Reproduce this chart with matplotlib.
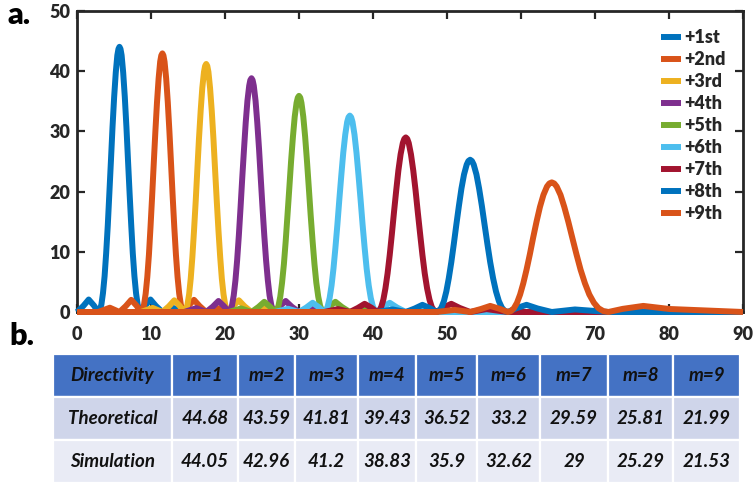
import matplotlib
matplotlib.use("Agg")
import matplotlib.pyplot as plt
from matplotlib.patches import Rectangle

# ---------------- data ----------------
series_labels = ["+1st", "+2nd", "+3rd", "+4th", "+5th", "+6th", "+7th", "+8th", "+9th"]

ang1 = [0.00, 0.86, 1.58, 2.29,
        2.87, 3.08, 3.30, 3.51, 3.73, 3.94, 4.16, 4.37, 4.59, 4.80, 5.02, 5.24, 5.45, 5.60, 5.74,
        5.88, 6.03, 6.24, 6.46, 6.68, 6.89, 7.11, 7.33, 7.54, 7.76, 7.98, 8.19, 8.41, 8.63,
        9.21, 9.93, 10.66, 11.54, 12.86, 14.48, 90.0]
dir1 = [0, 1.01, 2.07, 1.07,
        0, 0.28, 1.27, 3.13, 5.96, 9.75, 14.39, 19.66, 25.24, 30.72, 35.71, 39.79, 42.64, 43.69, 44.05,
        43.69, 42.64, 39.79, 35.71, 30.72, 25.24, 19.66, 14.39, 9.75, 5.96, 3.13, 1.27, 0.28, 0,
        1.07, 2.07, 1.01, 0, 0.73, 0, 0]

ang2 = [0.00, 2.87, 4.44, 5.74, 6.60, 7.33, 8.05,
        8.63, 8.84, 9.06, 9.28, 9.50, 9.72, 9.93, 10.15, 10.37, 10.59, 10.81, 11.03, 11.24, 11.39, 11.54,
        11.68, 11.83, 12.05, 12.27, 12.49, 12.71, 12.93, 13.15, 13.37, 13.59, 13.81, 14.03, 14.26, 14.48,
        15.07, 15.81, 16.56, 17.46, 18.81, 20.49, 90.0]
dir2 = [0, 0, 0.71, 0, 0.99, 2.02, 1.04,
        0, 0.28, 1.24, 3.06, 5.81, 9.51, 14.03, 19.17, 24.62, 29.96, 34.82, 38.80, 41.59, 42.61, 42.96,
        42.61, 41.59, 38.80, 34.82, 29.96, 24.62, 19.17, 14.03, 9.51, 5.81, 3.06, 1.24, 0.28, 0,
        1.04, 2.02, 0.99, 0, 0.71, 0, 0]

ang3 = [0.00, 8.63, 10.22, 11.54, 12.42, 13.15, 13.89,
        14.48, 14.70, 14.92, 15.15, 15.37, 15.59, 15.81, 16.04, 16.26, 16.48, 16.71, 16.93, 17.16, 17.31, 17.46,
        17.61, 17.76, 17.98, 18.21, 18.44, 18.66, 18.89, 19.12, 19.35, 19.57, 19.80, 20.03, 20.26, 20.49,
        21.10, 21.87, 22.64, 23.58, 24.99, 26.74, 90.0]
dir3 = [0, 0, 0.68, 0, 0.95, 1.94, 1.00,
        0, 0.27, 1.19, 2.93, 5.57, 9.12, 13.46, 18.39, 23.61, 28.73, 33.40, 37.21, 39.88, 40.86, 41.20,
        40.86, 39.88, 37.21, 33.40, 28.73, 23.61, 18.39, 13.46, 9.12, 5.57, 2.93, 1.19, 0.27, 0,
        1.00, 1.94, 0.95, 0, 0.68, 0, 0]

ang4 = [0.00, 14.48, 16.11, 17.46, 18.36, 19.12, 19.88,
        20.49, 20.72, 20.95, 21.18, 21.41, 21.64, 21.87, 22.10, 22.33, 22.57, 22.80, 23.03, 23.27, 23.42, 23.58,
        23.73, 23.89, 24.13, 24.36, 24.60, 24.83, 25.07, 25.31, 25.55, 25.79, 26.02, 26.26, 26.50, 26.74,
        27.39, 28.20, 29.01, 30.00, 31.50, 33.37, 90.0]
dir4 = [0, 0, 0.64, 0, 0.89, 1.83, 0.94,
        0, 0.25, 1.12, 2.76, 5.25, 8.60, 12.69, 17.33, 22.25, 27.08, 31.48, 35.07, 37.59, 38.51, 38.83,
        38.51, 37.59, 35.07, 31.48, 27.08, 22.25, 17.33, 12.69, 8.60, 5.25, 2.76, 1.12, 0.25, 0,
        0.94, 1.83, 0.89, 0, 0.64, 0, 0]

ang5 = [0.00, 20.49, 22.18, 23.58, 24.52, 25.31, 26.10,
        26.74, 26.99, 27.23, 27.47, 27.71, 27.96, 28.20, 28.44, 28.69, 28.93, 29.18, 29.42, 29.67, 29.84, 30.00,
        30.17, 30.33, 30.58, 30.83, 31.08, 31.33, 31.58, 31.84, 32.09, 32.34, 32.60, 32.85, 33.11, 33.37,
        34.06, 34.92, 35.80, 36.87, 38.50, 40.54, 90.0]
dir5 = [0, 0, 0.59, 0, 0.83, 1.69, 0.87,
        0, 0.23, 1.04, 2.55, 4.86, 7.95, 11.73, 16.02, 20.57, 25.04, 29.10, 32.43, 34.75, 35.61, 35.90,
        35.61, 34.75, 32.43, 29.10, 25.04, 20.57, 16.02, 11.73, 7.95, 4.86, 2.55, 1.04, 0.23, 0,
        0.87, 1.69, 0.83, 0, 0.59, 0, 0]

ang6 = [0.00, 26.74, 28.52, 30.00, 31.00, 31.84, 32.68,
        33.37, 33.63, 33.88, 34.14, 34.40, 34.66, 34.92, 35.19, 35.45, 35.72, 35.98, 36.25, 36.51, 36.69, 36.87,
        37.05, 37.23, 37.50, 37.77, 38.04, 38.32, 38.59, 38.87, 39.14, 39.42, 39.70, 39.98, 40.26, 40.54,
        41.30, 42.26, 43.24, 44.43, 46.26, 48.59, 90.0]
dir6 = [0, 0, 0.54, 0, 0.75, 1.53, 0.79,
        0, 0.21, 0.94, 2.32, 4.41, 7.22, 10.66, 14.56, 18.69, 22.75, 26.44, 29.46, 31.58, 32.35, 32.62,
        32.35, 31.58, 29.46, 26.44, 22.75, 18.69, 14.56, 10.66, 7.22, 4.41, 2.32, 0.94, 0.21, 0,
        0.79, 1.53, 0.75, 0, 0.54, 0, 0]

ang7 = [0.00, 33.37, 35.27, 36.87, 37.95, 38.87, 39.79,
        40.54, 40.83, 41.11, 41.40, 41.68, 41.97, 42.26, 42.55, 42.84, 43.14, 43.43, 43.73, 44.03, 44.23, 44.43,
        44.63, 44.83, 45.13, 45.44, 45.75, 46.05, 46.37, 46.68, 46.99, 47.31, 47.63, 47.94, 48.27, 48.59,
        49.46, 50.58, 51.72, 53.13, 55.34, 58.21, 90.0]
dir7 = [0, 0, 0.48, 0, 0.67, 1.36, 0.71,
        0, 0.19, 0.84, 2.06, 3.92, 6.42, 9.47, 12.94, 16.62, 20.22, 23.51, 26.19, 28.07, 28.76, 29.00,
        28.76, 28.07, 26.19, 23.51, 20.22, 16.62, 12.94, 9.47, 6.42, 3.92, 2.06, 0.84, 0.19, 0,
        0.71, 1.36, 0.67, 0, 0.48, 0, 0]

ang8 = [0.00, 40.54, 42.65, 44.43, 45.64, 46.68, 47.73,
        48.59, 48.92, 49.24, 49.58, 49.91, 50.24, 50.58, 50.92, 51.26, 51.61, 51.95, 52.30, 52.66, 52.89, 53.13,
        53.37, 53.61, 53.98, 54.34, 54.71, 55.08, 55.46, 55.84, 56.23, 56.62, 57.01, 57.41, 57.81, 58.21,
        59.32, 60.75, 62.25, 64.16, 67.29, 71.81, 90.0]
dir8 = [0, 0, 0.42, 0, 0.58, 1.19, 0.61,
        0, 0.16, 0.73, 1.80, 3.42, 5.60, 8.26, 11.29, 14.49, 17.64, 20.50, 22.84, 24.48, 25.08, 25.29,
        25.08, 24.48, 22.84, 20.50, 17.64, 14.49, 11.29, 8.26, 5.60, 3.42, 1.80, 0.73, 0.16, 0,
        0.61, 1.19, 0.58, 0, 0.42, 0, 0]

ang9 = [0.00, 48.59, 51.03, 53.13, 54.59, 55.84, 57.14,
        58.21, 58.62, 59.04, 59.46, 59.88, 60.31, 60.75, 61.20, 61.64, 62.10, 62.56, 63.03, 63.51, 63.83, 64.16,
        64.49, 64.82, 65.34, 65.85, 66.39, 66.93, 67.49, 68.05, 68.64, 69.23, 69.85, 70.48, 71.14, 71.81,
        73.74, 76.53, 80.06, 90.0]
dir9 = [0, 0, 0.35, 0, 0.50, 1.01, 0.52,
        0, 0.14, 0.62, 1.53, 2.91, 4.77, 7.03, 9.61, 12.34, 15.01, 17.45, 19.45, 20.84, 21.35, 21.53,
        21.35, 20.84, 19.45, 17.45, 15.01, 12.34, 9.61, 7.03, 4.77, 2.91, 1.53, 0.62, 0.14, 0,
        0.52, 1.01, 0.50, 0]

x_ticks = [0, 10, 20, 30, 40, 50, 60, 70, 80, 90]
y_ticks = [0, 10, 20, 30, 40, 50]

table_header = ["Directivity", "m=1", "m=2", "m=3", "m=4", "m=5", "m=6", "m=7", "m=8", "m=9"]
row_names = ["Theoretical", "Simulation"]
theoretical = [44.68, 43.59, 41.81, 39.43, 36.52, 33.2, 29.59, 25.81, 21.99]
simulation = [44.05, 42.96, 41.2, 38.83, 35.9, 32.62, 29, 25.29, 21.53]

# ---------------- styling ----------------
line_colors = ["#0072BD", "#D95319", "#EDB120", "#7E2F8E", "#77AC30",
               "#4DBEEE", "#A2142F", "#0072BD", "#D95319"]
plt.rcParams['font.family'] = ['Lato', 'DejaVu Sans']
plt.rcParams['font.weight'] = 'heavy'
ink = '#262626'

W, H = 753, 491
fig = plt.figure(figsize=(W / 100, H / 100), dpi=100)

ax = fig.add_axes([77 / W, 1 - 312 / H, (743 - 77) / W, (312 - 11) / H])
angles = [ang1, ang2, ang3, ang4, ang5, ang6, ang7, ang8, ang9]
values = [dir1, dir2, dir3, dir4, dir5, dir6, dir7, dir8, dir9]
for a, d, c, lab in zip(angles, values, line_colors, series_labels):
    ax.plot(a, d, color=c, lw=4.3, label=lab, solid_joinstyle='round',
            solid_capstyle='butt', clip_on=False, zorder=3)

ax.set_xlim(0, 90)
ax.set_ylim(0, 50)
ax.set_xticks(x_ticks)
ax.set_yticks(y_ticks)
ax.tick_params(direction='in', length=6, width=1.6, top=True, right=True,
               labelsize=13, colors=ink)
ax.tick_params(axis='x', pad=10)
ax.tick_params(axis='y', pad=5)
for t in ax.get_xticklabels() + ax.get_yticklabels():
    t.set_fontweight('heavy')
for sp in ax.spines.values():
    sp.set_linewidth(2.0)
    sp.set_color(ink)

ax.legend(loc='upper left', bbox_to_anchor=(661 / W, 1 - 29 / H),
          bbox_transform=fig.transFigure, frameon=False,
          prop={'weight': 'heavy', 'size': 13}, handlelength=1.1,
          handletextpad=0.2, labelspacing=0.28, borderpad=0, borderaxespad=0,
          labelcolor=ink)

fig.text(7 / W, 1 - 24 / H, "a.", fontsize=22, fontweight='heavy', ha='left', va='baseline', color='black')
fig.text(9 / W, 1 - 345 / H, "b.", fontsize=22, fontweight='heavy', ha='left', va='baseline', color='black')

# ---------------- table ----------------
col_edges = [53, 172, 238, 295, 358, 416, 477, 540, 608, 673, 740]
row_edges = [354, 397, 440, 483]
row_fill = ['#4472C4', '#CFD5EA', '#E9EBF5']

tax = fig.add_axes([53 / W, 1 - 483 / H, (740 - 53) / W, (483 - 354) / H])
tax.set_xlim(53, 740)
tax.set_ylim(483, 354)
tax.axis('off')

rows = [table_header,
        [row_names[0]] + [f"{v:g}" for v in theoretical],
        [row_names[1]] + [f"{v:g}" for v in simulation]]
for r, cells in enumerate(rows):
    y0, y1 = row_edges[r], row_edges[r + 1]
    for c, txt in enumerate(cells):
        x0, x1 = col_edges[c], col_edges[c + 1]
        tax.add_patch(Rectangle((x0, y0), x1 - x0, y1 - y0, facecolor=row_fill[r],
                                edgecolor='white', lw=1.6))
        tax.text((x0 + x1) / 2, (y0 + y1) / 2, txt, ha='center', va='center',
                 fontsize=13.5, fontweight='bold', fontstyle='italic', color='#111111')

fig.savefig("out.png", dpi=100)
